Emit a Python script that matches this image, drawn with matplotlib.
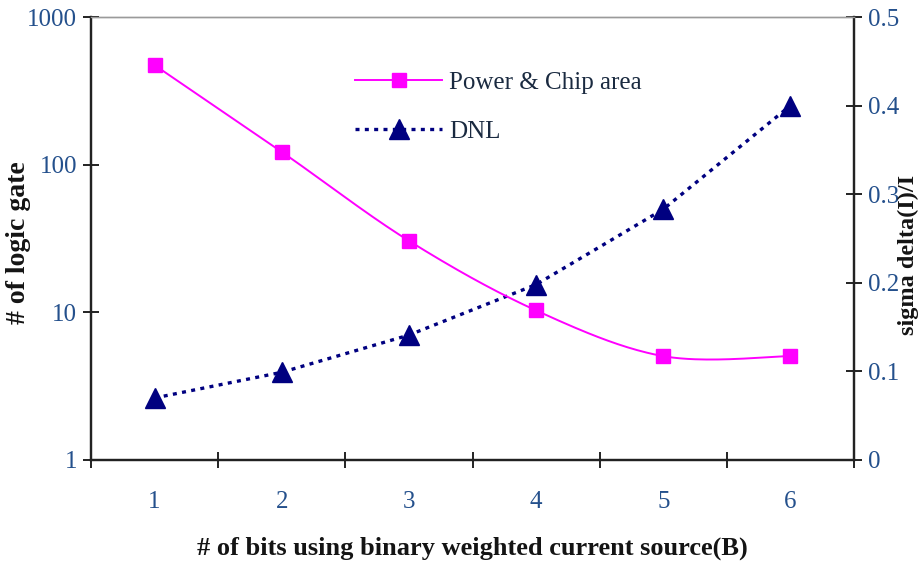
import numpy as np
import matplotlib
matplotlib.use("Agg")
import matplotlib.pyplot as plt

bits = [1, 2, 3, 4, 5, 6]
logic_gates = [472, 122, 30.5, 10.3, 5.05, 5.05]
dnl = [0.07, 0.099, 0.141, 0.198, 0.283, 0.40]
left_ticks = [1, 10, 100, 1000]
left_ticklabels = ["1", "10", "100", "1000"]
right_ticks = [0, 0.1, 0.2, 0.3, 0.4, 0.5]
right_ticklabels = ["0", "0.1", "0.2", "0.3", "0.4", "0.5"]


def smooth(x, y, n=40):
    # Catmull-Rom style smoothing (Excel-like "smoothed line")
    x = np.asarray(x, float)
    y = np.asarray(y, float)
    xs, ys = [], []
    P = np.column_stack([x, y])
    for i in range(len(P) - 1):
        p0 = P[i - 1] if i > 0 else P[i]
        p1 = P[i]
        p2 = P[i + 1]
        p3 = P[i + 2] if i + 2 < len(P) else P[i + 1]
        c1 = p1 + (p2 - p0) / 6.0
        c2 = p2 - (p3 - p1) / 6.0
        t = np.linspace(0, 1, n)[:, None]
        b = ((1 - t) ** 3) * p1 + 3 * ((1 - t) ** 2) * t * c1 + 3 * (1 - t) * t ** 2 * c2 + t ** 3 * p2
        xs.append(b[:, 0])
        ys.append(b[:, 1])
    return np.concatenate(xs), np.concatenate(ys)


serif = ["Liberation Serif", "DejaVu Serif"]
tick_color = "#24508c"
label_color = "#141414"

fig = plt.figure(figsize=(9.19, 5.68), dpi=100)
ax = fig.add_axes([91 / 919, 1 - 460 / 568, (854 - 91) / 919, (460 - 17) / 568])
ax2 = ax.twinx()

sx, sy = smooth(bits, np.log10(logic_gates))
ax.plot(sx, 10 ** sy, color="#ff00ff", lw=1.4, zorder=3)
ax.plot(bits, logic_gates, ls="none", marker="s", ms=10.5, color="#ff00ff", zorder=4)
pink_handle = plt.Line2D([], [], color="#ff00ff", lw=1.4, marker="s", ms=10.5)

ax2.plot(bits, dnl, color="#000080", lw=2.4, ls=(0, (1.2, 1.6)), marker="^", ms=15,
         markeredgecolor="#000080", zorder=3)
blue_handle = plt.Line2D([], [], color="#000080", lw=2.4, ls=(0, (1.2, 1.6)), marker="^", ms=15)

ax.set_yscale("log")
ax.set_ylim(1, 1000)
ax.set_xlim(0.5, 6.5)
ax2.set_ylim(0, 0.5)

ax.set_yticks(left_ticks)
ax.set_yticklabels(left_ticklabels)
ax.yaxis.set_minor_locator(matplotlib.ticker.NullLocator())
ax2.set_yticks(right_ticks)
ax2.set_yticklabels(right_ticklabels)

ax.set_xticks(np.arange(0.5, 7.0, 1.0))
ax.set_xticklabels([])
ax.set_xticks(bits, minor=True)
ax.set_xticklabels([str(b) for b in bits], minor=True)
ax.tick_params(axis="x", which="minor", length=0, pad=22)
ax.tick_params(axis="x", which="major", direction="inout", length=11, width=1.4, color="#222222")
ax.tick_params(axis="y", which="major", direction="inout", length=12, width=1.4, color="#222222", pad=4)
ax2.tick_params(axis="y", which="major", direction="inout", length=12, width=1.4, color="#222222", pad=4)

for a in (ax, ax2):
    for lab in a.get_xticklabels(which="both") + a.get_yticklabels():
        lab.set_fontfamily(serif)
        lab.set_fontsize(18)
        lab.set_color(tick_color)

for a in (ax, ax2):
    a.spines["top"].set_color("#9a9a9a")
    a.spines["top"].set_linewidth(1.0)
    for s in ("left", "right", "bottom"):
        a.spines[s].set_color("#222222")
        a.spines[s].set_linewidth(1.6)

fig.text(19 / 919, 1 - 243 / 568, "# of logic gate", rotation=90, ha="center", va="center",
         family=serif, fontweight="bold", fontsize=20, color=label_color)
fig.text(908 / 919, 1 - 255 / 568, "sigma delta(I)/I", rotation=90, ha="center", va="center",
         family=serif, fontweight="bold", fontsize=17.5, color=label_color)
fig.text(472 / 919, 1 - 548 / 568, "# of bits using binary weighted current source(B)",
         ha="center", va="center", family=serif, fontweight="bold", fontsize=19, color=label_color)

leg = ax.legend([pink_handle, blue_handle], ["Power & Chip area", "DNL"],
                loc="upper left", bbox_to_anchor=(0.346, 0.878), frameon=False,
                borderaxespad=0, borderpad=0, handlelength=3.5, handletextpad=0.28,
                labelspacing=1.06, prop={"family": serif, "size": 18})
for t in leg.get_texts():
    t.set_color("#1a2a40")
ax.set_zorder(ax2.get_zorder() + 1)
ax.patch.set_visible(False)

fig.savefig("out.png", dpi=100, facecolor="white")
